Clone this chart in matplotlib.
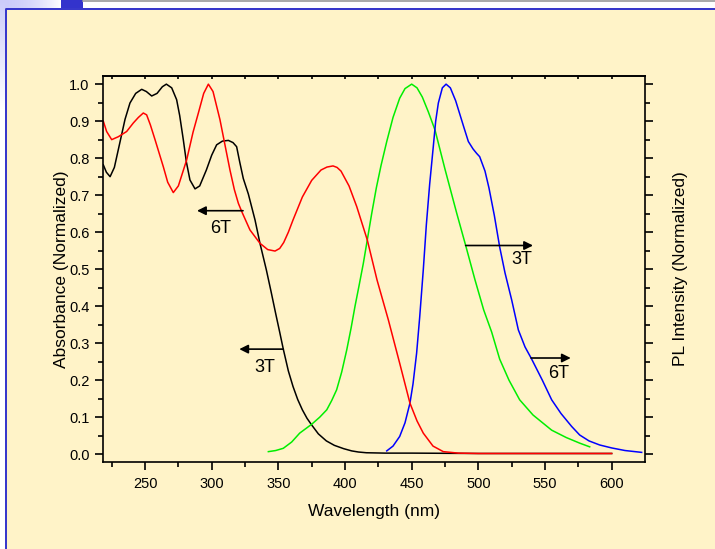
import numpy as np
import matplotlib
matplotlib.use("Agg")
from matplotlib import pyplot as plt
from matplotlib.patches import Rectangle

plt.rcParams['font.family'] = ['Liberation Sans', 'DejaVu Sans']

# 3T absorbance (black)
abs3t_x = [218.7, 221, 223.8, 227, 231, 235, 238.7, 243, 247.5, 251, 255, 259, 263, 266, 270,
           273.7, 276, 278.7, 281, 283.7, 287.5, 291, 296, 300, 303.7, 308, 312.5, 316, 318.7,
           321, 323.7, 327.5, 332.5, 336.2, 341, 344.5, 348, 351, 353.7, 357.5, 361, 364.5,
           368, 371.5, 375, 380, 386, 392, 399, 405, 410, 416, 430, 450, 500, 550, 600]
abs3t_y = [0.782, 0.762, 0.750, 0.775, 0.840, 0.905, 0.949, 0.975, 0.986, 0.980, 0.968, 0.975,
           0.993, 1.000, 0.990, 0.958, 0.915, 0.850, 0.790, 0.741, 0.717, 0.725, 0.768, 0.808,
           0.836, 0.846, 0.848, 0.842, 0.831, 0.790, 0.745, 0.703, 0.633, 0.570, 0.498, 0.440,
           0.380, 0.330, 0.284, 0.225, 0.183, 0.148, 0.120, 0.097, 0.079, 0.055, 0.036, 0.024,
           0.015, 0.009, 0.006, 0.004, 0.003, 0.003, 0.002, 0.002, 0.002]

# 6T absorbance (red)
abs6t_x = [218.7, 221.2, 225, 230, 236.2, 241.2, 245, 248.7, 251.2, 254, 257.5, 263.7, 267,
           271.2, 275, 281.2, 286, 290, 294, 297.5, 301, 306.2, 310, 313.7, 317, 320, 322.5,
           328.7, 336.2, 342, 347.5, 351, 354, 357.5, 361, 368, 375, 382, 386.5, 391, 394,
           397, 403, 408.8, 416.7, 424, 432.5, 441, 448.7, 454, 458.7, 466, 473.7, 485, 500,
           550, 600]
abs6t_y = [0.900, 0.872, 0.850, 0.858, 0.872, 0.895, 0.910, 0.922, 0.917, 0.890, 0.850, 0.777,
           0.735, 0.707, 0.725, 0.795, 0.870, 0.922, 0.975, 1.000, 0.980, 0.904, 0.835, 0.768,
           0.715, 0.678, 0.656, 0.606, 0.570, 0.553, 0.549, 0.556, 0.572, 0.600, 0.633, 0.695,
           0.740, 0.768, 0.776, 0.779, 0.775, 0.765, 0.725, 0.669, 0.579, 0.471, 0.363, 0.246,
           0.138, 0.090, 0.057, 0.022, 0.007, 0.003, 0.002, 0.002, 0.002]

# 3T PL (green)
pl3t_x = [342.5, 348, 353.7, 360, 366, 375, 381, 386.3, 390, 393.7, 397.5, 401.3, 404.5, 407.5,
          410.5, 413.7, 416.7, 420, 423.5, 427, 431.3, 436, 441, 445, 450, 454, 458, 462.5,
          467.5, 475, 483.8, 490.5, 497.5, 504, 510, 516, 523, 531, 541, 555, 566, 576, 583.5]
pl3t_y = [0.007, 0.010, 0.016, 0.033, 0.057, 0.081, 0.100, 0.120, 0.145, 0.174, 0.222, 0.282,
          0.340, 0.400, 0.455, 0.515, 0.579, 0.650, 0.720, 0.780, 0.845, 0.910, 0.962, 0.988,
          1.000, 0.990, 0.965, 0.925, 0.876, 0.770, 0.651, 0.564, 0.471, 0.390, 0.330, 0.257,
          0.200, 0.147, 0.106, 0.065, 0.045, 0.030, 0.020]

# 6T PL (blue)
pl6t_x = [431.3, 436, 441, 445, 448.7, 451, 453.7, 456, 458.7, 461, 463.5, 466.2, 468, 470,
          473, 475.8, 479, 483, 486, 489, 492.5, 496, 498.7, 501, 505, 508, 512, 516, 520, 525,
          530, 535, 540, 548, 555, 562, 570, 576, 583, 591, 600, 610, 622.5]
pl6t_y = [0.009, 0.022, 0.048, 0.085, 0.138, 0.190, 0.273, 0.370, 0.498, 0.620, 0.730, 0.831,
          0.900, 0.949, 0.990, 1.000, 0.990, 0.955, 0.920, 0.885, 0.845, 0.825, 0.813, 0.804,
          0.765, 0.719, 0.645, 0.560, 0.490, 0.417, 0.336, 0.290, 0.257, 0.200, 0.147, 0.110,
          0.075, 0.052, 0.036, 0.025, 0.017, 0.010, 0.005]

# arrow labels: (text, text pos, arrow tail, arrow head)
labels = [("6T", (307, 0.61), (323.5, 0.658), (289, 0.658)),
          ("3T", (340, 0.233), (353.7, 0.284), (320.7, 0.284)),
          ("3T", (532.5, 0.525), (490.5, 0.564), (541, 0.564)),
          ("6T", (560, 0.219), (539.5, 0.26), (569.3, 0.26))]

W, H = 715, 549
fig = plt.figure(figsize=(W / 100, H / 100), dpi=100)
fig.patch.set_facecolor("white")

# slide decoration in pixel coords
bg = fig.add_axes([0, 0, 1, 1], zorder=-5)
bg.axis("off")
grad = np.linspace(0, 1, 100)
lav = np.array([0.80, 0.80, 0.98])
img_h = np.array([lav + (1 - lav) * t ** 2 for t in grad])[None, :, :]
bg.imshow(img_h, extent=[0, 61, 8, 0], aspect="auto")
img_v = np.array([lav + (1 - lav) * t for t in grad])[:, None, :]
bg.imshow(img_v, extent=[0, 5, 110, 0], aspect="auto")
bg.add_patch(Rectangle((61, 0), 22, 8, color="#3333CC", lw=0))
bg.plot([83, W], [0.6, 0.6], color="#9a9a9a", lw=1.2)
bg.add_patch(Rectangle((5, 8), W - 5, H - 8, facecolor="#FFF3C8", edgecolor="none"))
bg.plot([5.5, 5.5, W], [H, 8.5, 8.5], color="#3333CC", lw=1.4)
bg.set_xlim(0, W)
bg.set_ylim(H, 0)

ax = fig.add_axes([103.3 / W, 1 - 462 / H, (645 - 103.3) / W, (462 - 76) / H])
ax.set_facecolor("none")

lw = 1.1
ax.plot(abs3t_x, abs3t_y, color="black", lw=lw)
ax.plot(pl3t_x, pl3t_y, color="#00EE00", lw=lw)
ax.plot(pl6t_x, pl6t_y, color="#0000FF", lw=lw)
ax.plot(abs6t_x, abs6t_y, color="#FF0000", lw=lw)

for txt, tpos, tail, head in labels:
    ax.annotate("", xy=head, xytext=tail,
                arrowprops=dict(arrowstyle="-|>", color="black", lw=1.2,
                                mutation_scale=13, shrinkA=0, shrinkB=0))
    ax.text(tpos[0], tpos[1], txt, fontsize=13, ha="center", va="center")

ax.set_xlim(218.7, 625)
ax.set_ylim(-0.021, 1.022)
ax.set_xticks([250, 300, 350, 400, 450, 500, 550, 600])
ax.set_xticks(np.arange(225, 625, 25), minor=True)
ax.set_yticks(np.arange(0, 1.01, 0.1))
ax.set_yticks(np.arange(0.05, 1.0, 0.1), minor=True)
ax.set_yticklabels(["%.1f" % v for v in np.arange(0, 1.01, 0.1)])

for s in ax.spines.values():
    s.set_linewidth(1.2)
ax.tick_params(axis="both", which="major", direction="out", length=6, width=1.2,
               labelsize=10.5, colors="black")
ax.tick_params(axis="both", which="minor", direction="out", length=3.5, width=1.2)
ax.tick_params(axis="x", which="both", pad=5)
ax.tick_params(axis="y", which="both", right=True, pad=4)

top = ax.secondary_xaxis("top")
top.set_xticks(np.arange(225, 625, 25))
top.tick_params(direction="in", length=2, width=1.2, labeltop=False)
top.spines["top"].set_linewidth(1.2)

ax.set_xlabel("Wavelength (nm)", fontsize=12.5, labelpad=9)
ax.set_ylabel("Absorbance (Normalized)", fontsize=12.5, labelpad=0)
ax.text(1.065, 0.5, "PL Intensity (Normalized)", transform=ax.transAxes, rotation=90,
        fontsize=12.5, ha="center", va="center")

fig.savefig("out.png", dpi=100, facecolor=fig.get_facecolor())
